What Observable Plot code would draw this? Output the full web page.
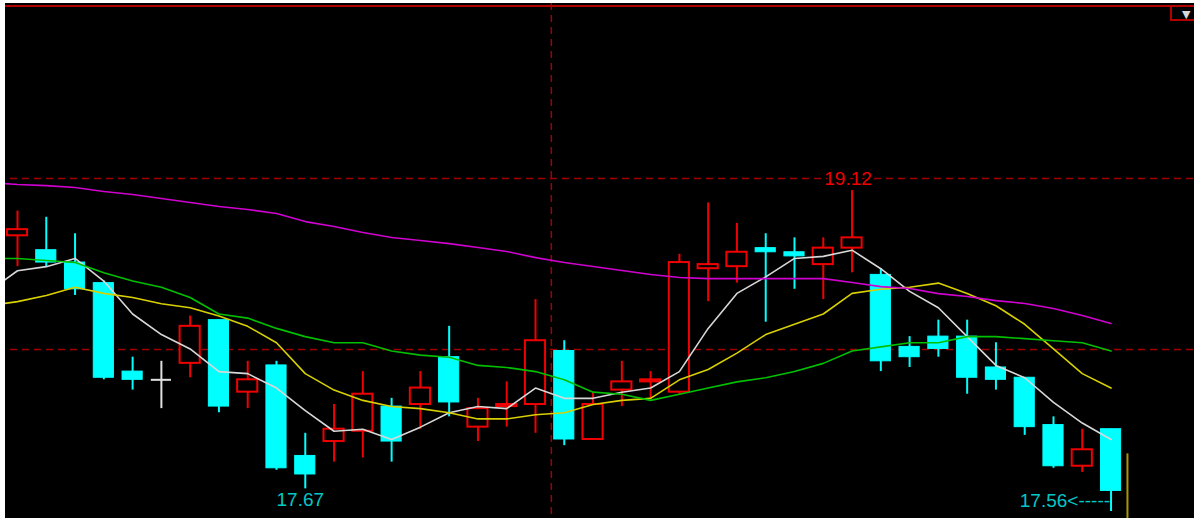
<!DOCTYPE html>
<html>
<head>
<meta charset="utf-8">
<script src="https://cdn.jsdelivr.net/npm/d3@7"></script>
<script src="https://cdn.jsdelivr.net/npm/@observablehq/plot@0.6"></script>
<style>
  html, body { margin: 0; padding: 0; background: #ffffff; }
  #wrap { position: absolute; left: 5px; top: 3px; width: 1189px; height: 515px; background: #000; overflow: hidden; }
  #topline { position: absolute; left: 0; top: 2px; width: 100%; height: 2px; background: #b00000; }
  #menu { position: absolute; left: 1165px; top: 2px; width: 30px; height: 16px; border-left: 2px solid #b00000; border-bottom: 2px solid #b00000; color: #d8d8d8; font: 11px "DejaVu Sans", sans-serif; line-height: 20px; text-align: left; padding-left: 10px; box-sizing: border-box; }
  #chart { position: absolute; left: 0; top: 0; }
</style>
</head>
<body>
<div id="wrap">
  <div id="chart"></div>
  <div id="topline"></div>
  <div id="menu">▼</div>
</div>
<script>
// ---- daily candles (index 0..38) ----
const opens  = [18.90,18.83,18.77,18.67,18.24,18.20,18.28,18.49,18.14,18.27,17.83,17.90,17.95,18.07,18.08,18.31,17.97,18.07,18.08,18.34,17.91,18.15,18.19,18.14,18.74,18.75,18.84,18.82,18.76,18.84,18.71,18.36,18.41,18.41,18.26,18.21,17.98,17.78,17.96];
const highs  = [19.02,18.99,18.91,18.68,18.31,18.29,18.51,18.49,18.29,18.29,17.94,18.08,18.24,18.11,18.24,18.46,18.11,18.19,18.59,18.39,18.14,18.29,18.24,18.81,19.06,18.96,18.91,18.89,18.89,19.12,18.74,18.41,18.49,18.49,18.38,18.21,18.02,17.96,17.96];
const lows   = [18.75,18.75,18.61,18.20,18.15,18.06,18.21,18.04,18.06,17.76,17.67,17.80,17.82,17.80,17.96,18.02,17.90,17.97,17.94,17.88,17.91,18.07,18.11,18.13,18.58,18.67,18.48,18.64,18.59,18.72,18.24,18.26,18.31,18.13,18.15,17.93,17.77,17.75,17.56];
const closes = [18.93,18.77,18.64,18.21,18.20,18.20,18.46,18.07,18.20,17.77,17.74,17.96,18.13,17.90,18.16,18.09,18.06,18.08,18.39,17.91,18.08,18.19,18.20,18.77,18.76,18.82,18.82,18.80,18.84,18.89,18.29,18.31,18.35,18.21,18.20,17.97,17.78,17.86,17.66];

// ---- moving averages, index -1..38 ----
const maStart = -1;
const ma5  = [18.63,18.73,18.75,18.79,18.68,18.52,18.42,18.35,18.24,18.23,18.16,18.05,17.95,17.96,17.91,17.97,18.04,18.07,18.06,18.16,18.11,18.11,18.14,18.16,18.24,18.45,18.62,18.70,18.79,18.80,18.83,18.74,18.63,18.55,18.41,18.27,18.21,18.09,17.99,17.91];
const ma10 = [18.56,18.58,18.61,18.65,18.62,18.60,18.57,18.55,18.51,18.46,18.38,18.23,18.15,18.10,18.07,18.06,18.04,18.01,18.01,18.03,18.04,18.08,18.10,18.11,18.20,18.25,18.33,18.42,18.47,18.52,18.62,18.64,18.65,18.67,18.62,18.56,18.47,18.35,18.23,18.16];
const ma20 = [18.79,18.79,18.78,18.77,18.72,18.68,18.65,18.60,18.52,18.50,18.45,18.41,18.38,18.38,18.34,18.32,18.31,18.27,18.26,18.24,18.20,18.14,18.13,18.10,18.13,18.16,18.19,18.21,18.24,18.28,18.34,18.36,18.38,18.38,18.41,18.41,18.40,18.39,18.38,18.34];
const ma60 = [19.159,19.149,19.144,19.135,19.115,19.101,19.081,19.062,19.042,19.028,19.008,18.969,18.945,18.916,18.892,18.877,18.862,18.843,18.824,18.794,18.770,18.751,18.731,18.712,18.697,18.692,18.692,18.692,18.692,18.692,18.673,18.653,18.644,18.619,18.605,18.585,18.571,18.547,18.513,18.474];
const maColors = ["#d8d8d8", "#d8d000", "#00c000", "#d000d0"];

// ---- grid / annotations ----
const hGrid = [19.178, 18.347];
const vGrid = [18.55];
const annoIdx  = [29, 10, 38];
const annoText = ["19.12", "17.67", "17.56<-----"];
const cursorX = 38.57, cursorTop = 17.84;

const yDomain = [17.526, 20.029];
const xDomain = [-0.417, 40.9];

const candles = opens.map((o, i) => ({i, open: o, high: highs[i], low: lows[i], close: closes[i],
  dir: closes[i] > o ? "up" : closes[i] < o ? "down" : "flat"}));
const colorOf = d => d.dir === "up" ? "#f00000" : d.dir === "down" ? "#00ffff" : "#e0e0e0";
const bw = 0.35;

const maRows = [];
[ma5, ma10, ma20, ma60].forEach((arr, k) => arr.forEach((v, j) => maRows.push({k, i: maStart + j, v})));

const annos = annoIdx.map((idx, n) => ({i: idx, text: annoText[n],
  y: n === 0 ? highs[idx] : lows[idx]}));

const chart = Plot.plot({
  width: 1189, height: 515, margin: 0,
  style: {background: "#000", overflow: "hidden"},
  x: {domain: xDomain, axis: null},
  y: {domain: yDomain, axis: null},
  marks: [
    Plot.ruleY(hGrid, {stroke: "#a00000", strokeWidth: 1.5, strokeDasharray: "7,5", x1: xDomain[0] + 0.17, x2: xDomain[1]}),
    Plot.ruleX(vGrid, {stroke: "#a00000", strokeWidth: 1.5, strokeDasharray: "7,5"}),
    // wicks
    Plot.ruleX(candles, {x: "i", y1: "low", y2: "high", stroke: colorOf, strokeWidth: 2}),
    // bodies
    Plot.rect(candles.filter(d => d.dir !== "flat"), {
      x1: d => d.i - bw, x2: d => d.i + bw, y1: "open", y2: "close",
      fill: d => d.dir === "up" ? "#000" : "#00ffff",
      stroke: colorOf, strokeWidth: d => d.dir === "up" ? 2 : 1
    }),
    Plot.ruleY(candles.filter(d => d.dir === "flat"), {
      y: "close", x1: d => d.i - bw, x2: d => d.i + bw, stroke: "#e0e0e0", strokeWidth: 2
    }),
    // moving averages
    Plot.line(maRows, {x: "i", y: "v", z: "k", stroke: d => maColors[d.k], strokeWidth: 1.6, clip: true}),
    // cursor line
    Plot.ruleX([cursorX], {y1: cursorTop, y2: yDomain[0], stroke: "#a89800", strokeWidth: 2}),
    // annotations
    Plot.text(annos.slice(0, 1), {x: "i", y: "y", text: "text", dy: -12, dx: -4, fill: "#f00000",
      stroke: "#000", strokeWidth: 4, paintOrder: "stroke",
      fontSize: 19, fontFamily: "Liberation Sans, Arial, sans-serif"}),
    Plot.text(annos.slice(1, 2), {x: "i", y: "y", text: "text", dy: 11, dx: -5, fill: "#00c8c8",
      fontSize: 19, fontFamily: "Liberation Sans, Arial, sans-serif"}),
    Plot.text(annos.slice(2, 3), {x: "i", y: "y", text: "text", dy: -11, dx: -1, textAnchor: "end", fill: "#00c8c8",
      fontSize: 19, fontFamily: "Liberation Sans, Arial, sans-serif"})
  ]
});
document.getElementById("chart").appendChild(chart);
</script>
</body>
</html>
